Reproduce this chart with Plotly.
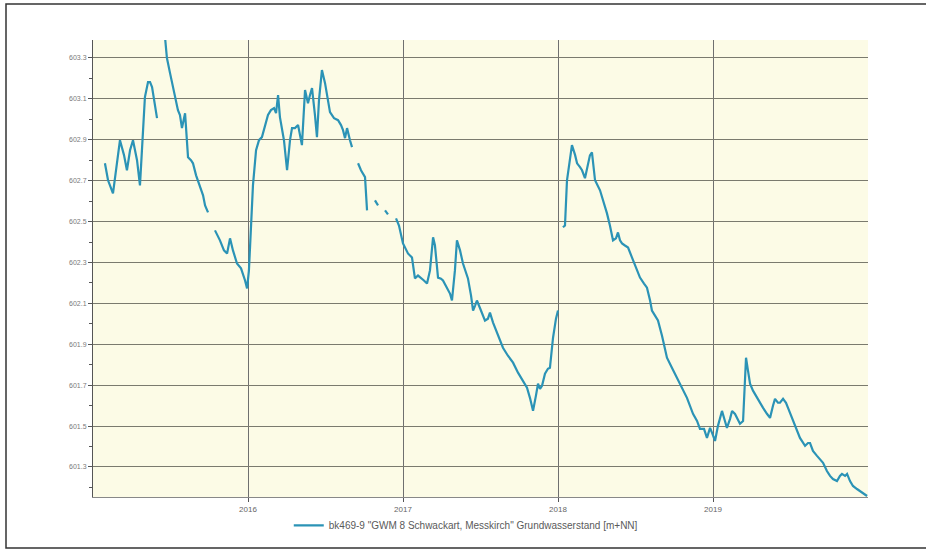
import plotly.graph_objects as go

# decimal year of each reading; None marks gaps in the record
years = [
    2015.077, 2015.097, 2015.129, 2015.155, 2015.174, 2015.200, 2015.219, 2015.239, 2015.258, 2015.284,
    2015.303, 2015.323, 2015.335, 2015.355, 2015.368, 2015.381, 2015.400, 2015.413, 2015.440,
    2015.465, 2015.477, 2015.497, 2015.516, 2015.535, 2015.548, 2015.561, 2015.574, 2015.594, 2015.613,
    2015.632, 2015.645, 2015.665, 2015.690, 2015.710, 2015.723, 2015.742, 2015.760,
    2015.787, 2015.819, 2015.845, 2015.865, 2015.884, 2015.903, 2015.929, 2015.955, 2015.981, 2015.994,
    2016.006, 2016.019, 2016.032, 2016.052, 2016.071, 2016.090, 2016.110, 2016.129, 2016.148, 2016.168,
    2016.181, 2016.194, 2016.206, 2016.232, 2016.252, 2016.271, 2016.284, 2016.303, 2016.323, 2016.348,
    2016.368, 2016.387, 2016.400, 2016.413, 2016.432, 2016.445, 2016.458, 2016.477, 2016.497, 2016.516,
    2016.529, 2016.555, 2016.581, 2016.600, 2016.613, 2016.626, 2016.639, 2016.658, 2016.671, 2016.685,
    2016.710, 2016.729, 2016.755, 2016.761, 2016.768, 2016.790,
    2016.819, 2016.839, 2016.860,
    2016.884, 2016.903, 2016.930,
    2016.955, 2016.974, 2017.000, 2017.013, 2017.032, 2017.058, 2017.077, 2017.097, 2017.110, 2017.135,
    2017.155, 2017.174, 2017.194, 2017.206, 2017.226, 2017.245, 2017.258, 2017.284, 2017.303, 2017.316,
    2017.335, 2017.348, 2017.368, 2017.387, 2017.406, 2017.419, 2017.439, 2017.452, 2017.465, 2017.477,
    2017.503, 2017.529, 2017.548, 2017.561, 2017.581, 2017.594, 2017.619, 2017.645, 2017.677, 2017.710,
    2017.742, 2017.774, 2017.800, 2017.819, 2017.839, 2017.858, 2017.871, 2017.884, 2017.897, 2017.916,
    2017.935, 2017.948, 2017.961, 2017.968, 2017.987, 2018.000, 2018.015,
    2018.032, 2018.045, 2018.058, 2018.077, 2018.090, 2018.110, 2018.123, 2018.142, 2018.155, 2018.174,
    2018.194, 2018.206, 2018.219, 2018.232, 2018.239, 2018.271, 2018.297, 2018.316, 2018.335, 2018.355,
    2018.374, 2018.387, 2018.400, 2018.413, 2018.432, 2018.452, 2018.477, 2018.503, 2018.529, 2018.555,
    2018.574, 2018.594, 2018.606, 2018.626, 2018.645, 2018.671, 2018.703, 2018.735, 2018.768, 2018.800,
    2018.832, 2018.871, 2018.897, 2018.916, 2018.942, 2018.961, 2018.981, 2018.994, 2019.013, 2019.032,
    2019.058, 2019.077, 2019.090, 2019.110, 2019.123, 2019.142, 2019.174, 2019.194, 2019.206, 2019.213,
    2019.226, 2019.239, 2019.258, 2019.284, 2019.303, 2019.323, 2019.348, 2019.368, 2019.387, 2019.400,
    2019.419, 2019.432, 2019.452, 2019.471, 2019.484, 2019.510, 2019.529, 2019.561, 2019.594, 2019.613,
    2019.626, 2019.645, 2019.671, 2019.690, 2019.710, 2019.735, 2019.755, 2019.774, 2019.800, 2019.819,
    2019.832, 2019.852, 2019.865, 2019.884, 2019.903, 2019.929, 2019.948, 2019.974, 2019.994,
]

# groundwater level [m+NN]
levels = [
    602.785, 602.702, 602.638, 602.800, 602.898, 602.825, 602.751, 602.849, 602.898, 602.800,
    602.677, 602.947, 603.109, 603.182, 603.182, 603.158, 603.070, 603.006, None,
    603.398, 603.300, 603.226, 603.153, 603.094, 603.045, 603.021, 602.957, 603.030, 602.815,
    602.800, 602.785, 602.726, 602.668, 602.628, 602.579, 602.545, None,
    602.457, 602.408, 602.359, 602.344, 602.418, 602.359, 602.295, 602.271, 602.212, 602.173,
    602.261, 602.506, 602.677, 602.849, 602.898, 602.913, 602.972, 603.021, 603.045, 603.055,
    603.030, 603.119, 603.011, 602.898, 602.751, 602.898, 602.957, 602.957, 602.972, 602.874,
    603.143, 603.079, 603.119, 603.153, 603.021, 602.913, 603.094, 603.241, 603.177, 603.094,
    603.035, 603.006, 602.996, 602.972, 602.947, 602.908, 602.957, 602.898, 602.864, None,
    602.785, 602.751, 602.717, 602.628, 602.555, None,
    602.604, 602.579, None,
    602.555, 602.535, None,
    602.516, 602.481, 602.393, 602.373, 602.344, 602.324, 602.222, 602.236, 602.226, 602.212,
    602.197, 602.261, 602.423, 602.384, 602.226, 602.221, 602.212, 602.177, 602.148, 602.114,
    602.261, 602.408, 602.359, 602.295, 602.251, 602.222, 602.138, 602.065, 602.089, 602.114,
    602.065, 602.016, 602.025, 602.055, 602.006, 601.981, 601.932, 601.883, 601.844, 601.810,
    601.761, 601.722, 601.687, 601.638, 601.575, 601.650, 601.707, 601.682, 601.697, 601.756,
    601.780, 601.785, 601.893, 601.932, 602.025, 602.065, None,
    602.472, 602.481, 602.702, 602.800, 602.874, 602.826, 602.785, 602.766, 602.751, 602.712,
    602.775, 602.824, 602.839, 602.751, 602.702, 602.653, 602.594, 602.540, 602.481, 602.408,
    602.418, 602.447, 602.408, 602.393, 602.383, 602.373, 602.325, 602.275, 602.226, 602.197,
    602.177, 602.114, 602.065, 602.040, 602.016, 601.942, 601.834, 601.785, 601.736, 601.687,
    601.638, 601.560, 601.525, 601.486, 601.486, 601.442, 601.491, 601.467, 601.427, 601.501,
    601.574, 601.525, 601.491, 601.535, 601.574, 601.559, 601.511, 601.525, 601.722, 601.834,
    601.770, 601.707, 601.673, 601.638, 601.614, 601.589, 601.560, 601.540, 601.599, 601.633,
    601.614, 601.614, 601.633, 601.614, 601.589, 601.540, 601.511, 601.442, 601.403, 601.417,
    601.417, 601.378, 601.354, 601.339, 601.320, 601.280, 601.256, 601.241, 601.231, 601.256,
    601.266, 601.256, 601.266, 601.231, 601.207, 601.192, 601.182, 601.168, 601.158,
]

year_ticks = [2016, 2017, 2018, 2019]
year_labels = ["2016", "2017", "2018", "2019"]
level_ticks = [601.3, 601.5, 601.7, 601.9, 602.1, 602.3, 602.5, 602.7, 602.9, 603.1, 603.3]
level_labels = ["601.3", "601.5", "601.7", "601.9", "602.1", "602.3", "602.5", "602.7", "602.9", "603.1", "603.3"]
series_name = 'bk469-9 "GWM 8 Schwackart, Messkirch" Grundwasserstand [m+NN]'

fig = go.Figure()
fig.add_trace(go.Scatter(
    x=years, y=levels, mode="lines", name=series_name,
    line=dict(color="#2b93b6", width=2.2), connectgaps=False,
))

fig.update_layout(
    width=926, height=553,
    margin=dict(l=93, r=58, t=40, b=56, autoexpand=False),
    paper_bgcolor="white",
    plot_bgcolor="#fcfbe6",
    font=dict(family="Liberation Sans, Arial, sans-serif", color="#666666", size=8),
    showlegend=True,
    legend=dict(orientation="h", x=0.481, xanchor="center", y=-0.062, yanchor="middle",
                font=dict(size=10, color="#5a5a5a"), itemwidth=30,
                bgcolor="rgba(0,0,0,0)"),
    xaxis=dict(
        range=[2015.0, 2020.0], tickvals=year_ticks, ticktext=year_labels,
        showgrid=True, gridcolor="#6f6f6f", gridwidth=1,
        ticks="outside", ticklen=4, tickcolor="#555555",
        showline=True, linecolor="#888888", linewidth=1,
        zeroline=False, tickfont=dict(size=8, color="#666666"),
    ),
    yaxis=dict(
        range=[601.153, 603.388], tickvals=level_ticks, ticktext=level_labels,
        showgrid=True, gridcolor="#7a7a6e", gridwidth=1,
        ticks="outside", ticklen=4, tickcolor="#555555",
        showline=True, linecolor="#555555", linewidth=1,
        zeroline=False, tickfont=dict(size=7, color="#7a7a7a"),
        minor=dict(dtick=0.1, tick0=601.2, ticks="outside", ticklen=3, tickcolor="#555555", showgrid=False),
    ),
    shapes=[
        dict(type="rect", xref="paper", yref="paper",
             x0=-87/775, x1=852/775, y0=-51/457, y1=(457+36)/457,
             line=dict(color="#333333", width=1.5), fillcolor="rgba(0,0,0,0)", layer="below"),
    ],
)

fig.write_html("out.html", config={"displayModeBar": False},
               post_script="document.body.style.margin='0px';")
